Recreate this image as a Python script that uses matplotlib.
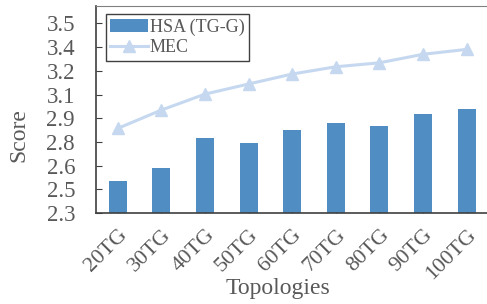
import matplotlib.pyplot as plt
import numpy as np

topologies = ['20TG', '30TG', '40TG', '50TG', '60TG', '70TG', '80TG', '90TG', '100TG']
hsa = [2.50, 2.583, 2.773, 2.745, 2.827, 2.872, 2.853, 2.927, 2.96]
mec = [2.836, 2.952, 3.053, 3.117, 3.18, 3.226, 3.251, 3.305, 3.336]
yticks = [2.3, 2.45, 2.6, 2.75, 2.9, 3.05, 3.2, 3.35, 3.5]

plt.rcParams['font.family'] = ['Liberation Serif', 'DejaVu Serif']
txt = '#595959'

fig = plt.figure(figsize=(4.87, 3.04), dpi=100)
ax = fig.add_axes([0.197, 0.299, 0.806, 0.681])

x = np.arange(len(topologies))
bars = ax.bar(x, hsa, width=0.41, color='#4f8dc3', zorder=2)
line, = ax.plot(x, mec, color='#c5d8ef', lw=2.2, marker='^', ms=9, zorder=3)

ax.set_xlim(-0.5, len(topologies) - 0.5)
ax.set_ylim(2.3, 3.61)
ax.set_yticks(yticks)
# excel style: one decimal on 0.15 steps
ax.set_yticklabels(['%.1f' % (v + 1e-9) for v in yticks])
ax.set_xticks(x)
ax.set_xticklabels(topologies, rotation=45, ha='right', rotation_mode='anchor')

ax.tick_params(axis='y', direction='in', length=4, pad=15, labelsize=16.5, labelcolor=txt, color='#404040')
ax.tick_params(axis='x', direction='in', length=4, pad=9, labelsize=16, labelcolor=txt, color='#404040')

for s in ['left', 'bottom']:
    ax.spines[s].set_color('#404040')
    ax.spines[s].set_linewidth(1.2)
ax.spines['top'].set_color('#808080')
ax.spines['right'].set_visible(False)

fig.text(0.039, 0.556, 'Score', rotation=90, ha='center', va='center', fontsize=17, color=txt)
fig.text(0.571, 0.05, 'Topologies', ha='center', va='center', fontsize=17, color=txt)

leg = ax.legend([bars, line], ['HSA (TG-G)', 'MEC'], loc='upper left', bbox_to_anchor=(0.025, 0.962),
                fontsize=13, fancybox=False, edgecolor='#404040', framealpha=1, borderaxespad=0,
                borderpad=0.25, handlelength=2.1, handletextpad=0.1, labelspacing=0.2)
leg.get_frame().set_linewidth(1.0)
for t in leg.get_texts():
    t.set_color(txt)

fig.savefig('out.png', dpi=100)
